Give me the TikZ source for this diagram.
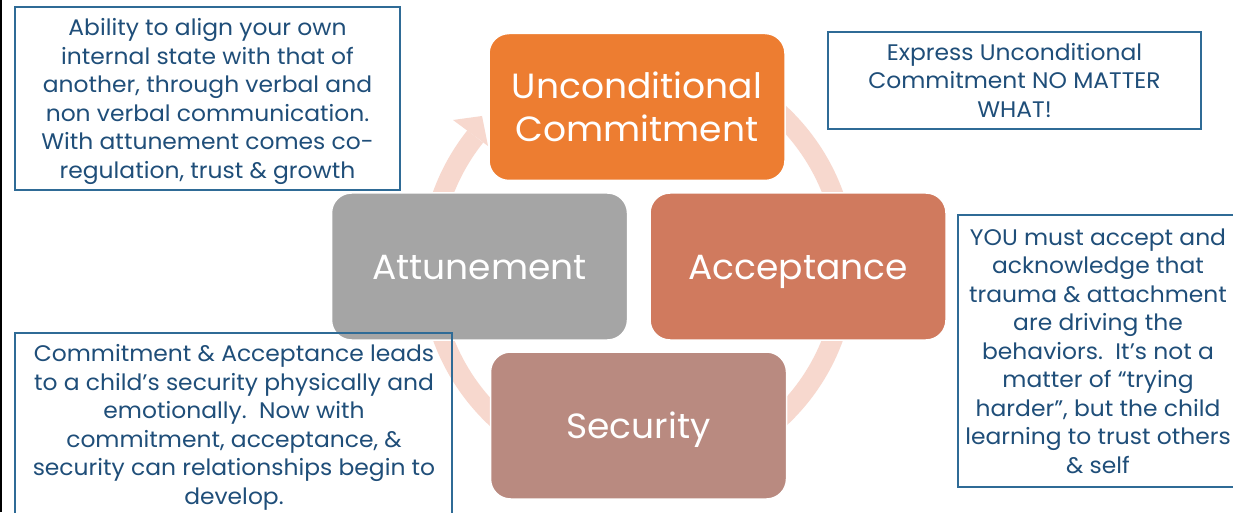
\documentclass[tikz,border=0pt]{standalone}
\usepackage{fontspec}
\setmainfont{Poppins}
\newfontfamily\descfont{Poppins}[FakeStretch=1.04]
\newfontfamily\mainfont{Poppins}[FakeStretch=1.03]
\definecolor{ucorange}{HTML}{ED7D31}
\definecolor{accbrown}{HTML}{D07A5E}
\definecolor{attgray}{HTML}{A5A5A5}
\definecolor{secrose}{HTML}{B98A80}
\definecolor{ringpink}{HTML}{F7D8CE}
\definecolor{boxblue}{HTML}{2F6B96}
\definecolor{textblue}{HTML}{1F4E79}
\begin{document}
\begin{tikzpicture}[x=1pt,y=1pt,
  mainbox/.style={rounded corners=20pt, draw=white, line width=1.5pt,
    minimum width=296pt, minimum height=147pt, text=white, align=center,
    font=\mainfont\fontsize{35}{43}\selectfont, inner sep=0pt},
  oneline/.style={text height=25pt, text depth=0pt},
  descline/.style={draw=boxblue, line width=1.2pt},
  desctext/.style={text=textblue, align=center,
    font=\descfont\fontsize{22.5}{28.5}\selectfont, inner sep=0pt},
  ringstyle/.style={ringpink, line width=20pt}
]
\useasboundingbox (0,0) rectangle (1233,512);
\fill[white] (0,0) rectangle (1233,512);
% left frame line
\draw[black, line width=2.4pt] (1.2,0) -- (1.2,512);

% circular arrow
\coordinate (c) at (638,246);
\draw[ringstyle] (c) ++(130:208pt) arc[start angle=130, end angle=-218.5, radius=208pt];
\coordinate (ahout) at (453,392);
\coordinate (ahtip) at (482,396);
\coordinate (ahin) at (488,366);
\fill[ringpink] (ahout) -- (ahtip) -- (ahin) -- cycle;

% main boxes
\node[mainbox, fill=ucorange] (uc) at (637,405) {Unconditional\\Commitment};
\node[mainbox, oneline, fill=attgray] (att) at (479.5,245.5) {Attunement};
\node[mainbox, oneline, fill=accbrown] (acc) at (798,245.5) {Acceptance};
\node[mainbox, oneline, fill=secrose] (sec) at (638.5,86.5) {Security};

% description boxes
\draw[descline] (15,322) rectangle (400,505);
\node[desctext] (attdesc) at (207.5,410.5)
  {Ability to align your own\\internal state with that of\\another, through verbal and\\non verbal communication.\\With attunement comes co-\\regulation, trust \& growth};
\node[descline, desctext, minimum width=373pt, minimum height=97pt] (ucdesc) at (1014.5,431.5)
  {Express Unconditional\\Commitment NO MATTER\\WHAT!};
\draw[descline] (15,-10) rectangle (452,179);
\node[desctext] (secdesc) at (234,84.5)
  {Commitment \& Acceptance leads\\to a child’s security physically and\\emotionally.\ \ Now with\\commitment, acceptance, \&\\security can relationships begin to\\develop.};
\draw[descline] (958,25) rectangle (1245,297);
\node[desctext] (accdesc) at (1098,161)
  {YOU must accept and\\acknowledge that\\trauma \& attachment\\are driving the\\behaviors.\ \ It’s not a\\matter of “trying\\harder”, but the child\\learning to trust others\\\& self};
\end{tikzpicture}
\end{document}
